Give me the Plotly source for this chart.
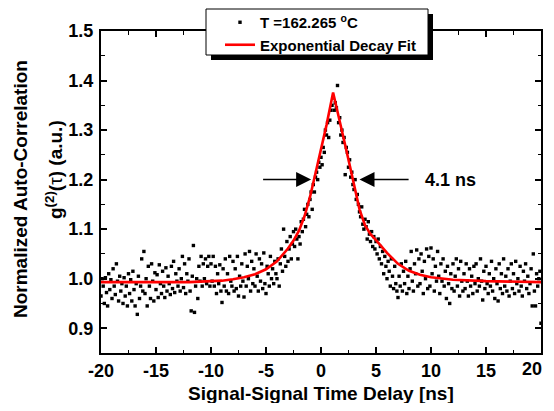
import plotly.graph_objects as go

# ---------------- data ----------------
# sampling grid of the measured histogram: -20 ns ... 20 ns, 0.1 ns bins
delay_start_ns = -20.0
delay_step_ns = 0.1

g2_measured = [
    0.965, 1.000, 0.985, 0.950, 1.002, 0.972, 0.945, 1.010, 0.978, 0.998,   # -20
    0.960, 1.020, 0.985, 0.968, 1.030, 0.995, 0.955, 1.005, 0.975, 0.990,   # -19
    0.950, 1.002, 0.965, 0.985, 0.945, 1.010, 0.970, 0.998, 0.955, 1.015,   # -18
    0.978, 0.945, 0.990, 0.928, 1.005, 0.960, 0.985, 1.040, 0.975, 1.055,   # -17
    0.970, 1.000, 0.945, 1.025, 0.985, 0.960, 1.030, 0.995, 0.955, 1.012,   # -16
    0.978, 1.008, 0.962, 1.028, 0.990, 0.970, 1.015, 0.985, 0.962, 1.022,   # -15
    0.975, 1.005, 0.990, 0.968, 1.025, 0.980, 1.035, 0.972, 1.010, 0.995,   # -14
    0.985, 1.020, 0.975, 1.000, 1.045, 0.982, 1.030, 0.970, 1.010, 0.995,   # -13
    1.040, 0.975, 0.935, 1.005, 1.067, 0.932, 0.985, 1.000, 0.960, 1.025,   # -12
    0.995, 1.045, 0.985, 1.030, 1.000, 1.040, 0.990, 1.025, 1.045, 0.985,   # -11
    1.030, 0.995, 1.045, 0.985, 1.025, 0.970, 1.010, 0.990, 1.028, 0.975,   # -10
    0.952, 1.020, 0.985, 1.040, 0.975, 1.010, 0.970, 1.045, 0.995, 0.985,   # -9
    1.035, 0.975, 1.020, 0.980, 1.045, 0.965, 1.005, 0.985, 1.030, 0.995,   # -8
    0.963, 1.050, 0.985, 1.025, 1.000, 1.055, 0.975, 1.035, 0.990, 1.020,   # -7
    0.985, 1.050, 1.005, 0.975, 1.040, 0.995, 1.030, 0.980, 1.052, 0.990,   # -6
    0.970, 1.025, 1.010, 0.985, 1.045, 1.000, 1.020, 0.990, 1.035, 1.010,   # -5
    1.000, 1.040, 0.985, 1.030, 1.060, 1.015, 1.100, 1.045, 1.025, 1.075,   # -4
    1.035, 1.060, 1.085, 1.040, 1.070, 1.095, 1.065, 1.100, 1.080, 1.040,   # -3
    1.085, 1.070, 1.115, 1.095, 1.120, 1.140, 1.105, 1.130, 1.150, 1.125,   # -2
    1.160, 1.175, 1.140, 1.190, 1.175, 1.205, 1.215, 1.200, 1.235, 1.225,   # -1
    1.245, 1.230, 1.265, 1.255, 1.300, 1.290, 1.315, 1.285, 1.320, 1.340,   # 0
    1.350, 1.365, 1.340, 1.355, 1.345, 1.390, 1.315, 1.325, 1.290, 1.300,   # 1
    1.275, 1.285, 1.210, 1.265, 1.255, 1.225, 1.240, 1.205, 1.215, 1.190,   # 2
    1.180, 1.200, 1.160, 1.170, 1.150, 1.135, 1.125, 1.145, 1.110, 1.100,   # 3
    1.120, 1.105, 1.080, 1.115, 1.090, 1.075, 1.095, 1.065, 1.085, 1.060,   # 4
    1.075, 1.050, 1.080, 1.040, 1.065, 1.030, 1.055, 1.010, 1.045, 1.025,   # 5
    1.000, 1.035, 1.015, 0.985, 1.040, 1.005, 0.980, 1.025, 0.990, 0.975,   # 6
    0.962, 1.005, 0.985, 1.030, 0.975, 1.015, 0.990, 1.035, 0.970, 1.005,   # 7
    0.980, 1.020, 1.055, 0.995, 0.975, 1.030, 1.010, 1.058, 0.985, 1.040,   # 8
    0.990, 1.050, 1.015, 0.970, 1.035, 1.000, 1.060, 0.980, 1.045, 0.985,   # 9
    1.062, 1.010, 1.040, 0.975, 1.025, 0.995, 1.055, 1.005, 0.970, 1.030,   # 10
    0.995, 1.040, 0.985, 1.015, 0.960, 1.025, 0.990, 0.950, 1.010, 0.980,   # 11
    1.030, 0.975, 1.005, 1.040, 0.985, 1.020, 0.965, 1.035, 0.995, 0.975,   # 12
    1.010, 0.980, 1.030, 0.995, 0.965, 1.020, 0.985, 1.005, 0.970, 1.025,   # 13
    0.990, 1.030, 0.975, 1.000, 0.985, 1.040, 0.995, 0.957, 1.015, 0.980,   # 14
    1.025, 0.990, 0.970, 1.010, 0.985, 1.035, 0.975, 1.000, 0.960, 1.020,   # 15
    0.990, 0.955, 1.030, 0.980, 1.010, 0.970, 1.040, 0.985, 1.005, 0.975,   # 16
    1.020, 0.965, 0.995, 1.030, 0.980, 1.010, 0.970, 1.035, 0.990, 1.000,   # 17
    0.975, 1.025, 0.985, 0.965, 1.015, 0.995, 1.030, 0.980, 1.005, 0.970,   # 18
    0.990, 1.020, 0.945, 1.050, 0.975, 0.945, 1.010, 0.985, 1.000, 1.015,   # 19
    0.910,                                                                  # 20
]
delay_measured = [round(delay_start_ns + delay_step_ns * i, 1) for i in range(len(g2_measured))]

fit_delay = [-20, -15, -12, -10, -9, -8, -7, -6, -5, -4, -3.5, -3, -2.5, -2, -1.5, -1,
             -0.5, 0, 0.5, 1.1, 1.5, 2, 2.5, 3, 3.5, 4, 4.5, 5, 5.5, 6, 7, 8, 9, 10,
             12, 15, 20]
fit_g2 = [0.993, 0.993, 0.993, 0.995, 0.996, 0.999, 1.003, 1.009, 1.019, 1.035, 1.047,
          1.061, 1.077, 1.097, 1.126, 1.165, 1.213, 1.260, 1.310, 1.376, 1.340, 1.289,
          1.240, 1.188, 1.140, 1.108, 1.090, 1.078, 1.064, 1.052, 1.030, 1.016, 1.008,
          1.003, 0.998, 0.995, 0.993]

x_ticks = [-20, -15, -10, -5, 0, 5, 10, 15, 20]
x_tick_labels = ["-20", "-15", "-10", "-5", "0", "5", "10", "15", ""]
x_last_label = "20"          # drawn just inside the frame, as in the reference
y_ticks = [0.9, 1.0, 1.1, 1.2, 1.3, 1.4, 1.5]
y_tick_labels = ["0.9", "1.0", "1.1", "1.2", "1.3", "1.4", "1.5"]

legend_points = "T =162.265 <sup>o</sup>C"
legend_fit = "Exponential Decay Fit"
fwhm_label = "4.1 ns"
fwhm_y = 1.2
fwhm_left = (-5.4, -0.9)    # tail, head
fwhm_right = (8.1, 3.5)     # tail, head
fwhm_text_x = 9.3

FONT = "Liberation Sans, Arial, sans-serif"

# ---------------- figure ----------------
fig = go.Figure()
fig.add_trace(go.Scatter(
    x=delay_measured, y=g2_measured, mode="markers", name=legend_points,
    marker=dict(symbol="square", size=3.4, color="black", line=dict(width=0)),
))
fig.add_trace(go.Scatter(
    x=fit_delay, y=fit_g2, mode="lines", name=legend_fit,
    line=dict(color="#ff0000", width=2.6),
))

# The page body has an 8 px default margin on every side, so the figure is
# sized to fit inside the window and placed so the plot area lands on the
# reference's screen pixels.
OFF = 8
SW, SH = 554, 411
PL, PR, PT, PB = 101, 541, 31, 353          # plot area in screen pixels
W, H = SW - 2 * OFF, SH - 2 * OFF
L, T = PL - OFF, PT - OFF
R, B = (OFF + W) - PR, (OFF + H) - PB
pw, ph = PR - PL, PB - PT


def px(xs):
    return (xs - PL) / pw


def py(ys):
    return (PB - ys) / ph


TICKFONT = dict(family=FONT, size=18, color="black", weight="bold")

axis_common = dict(
    showline=True, linecolor="black", linewidth=2, mirror="allticks",
    ticks="inside", ticklen=6, tickwidth=1.6, tickcolor="black",
    showgrid=False, zeroline=False,
    tickfont=TICKFONT,
)

fig.update_xaxes(range=[-20, 20], tickvals=x_ticks, ticktext=x_tick_labels,
                 minor=dict(ticks="inside", ticklen=3.5, tickwidth=1.4, dtick=2.5, tick0=0,
                            tickcolor="black", showgrid=False),
                 ticklabelstandoff=0, **axis_common)
fig.update_yaxes(range=[0.85, 1.5], tickvals=y_ticks, ticktext=y_tick_labels,
                 minor=dict(ticks="inside", ticklen=3.5, tickwidth=1.4, dtick=0.05, tick0=0,
                            tickcolor="black", showgrid=False),
                 ticklabelstandoff=2, **axis_common)

# legend frame with drop shadow
box = (206, 9, 428, 55)
fig.add_shape(type="rect", xref="paper", yref="paper",
              x0=px(box[0] + 5), x1=px(box[2] + 5), y0=py(box[3] + 5), y1=py(box[1] + 5),
              fillcolor="black", line=dict(width=0), layer="above")
fig.add_shape(type="rect", xref="paper", yref="paper",
              x0=px(box[0]), x1=px(box[2]), y0=py(box[3]), y1=py(box[1]),
              fillcolor="white", line=dict(color="black", width=1), layer="above")

fig.update_layout(
    width=W, height=H,
    margin=dict(l=L, r=R, t=T, b=B, pad=0, autoexpand=False),
    paper_bgcolor="white", plot_bgcolor="white",
    showlegend=True,
    legend=dict(x=px(box[0] + 14), y=py(box[1] - 3), xanchor="left", yanchor="top",
                bgcolor="rgba(0,0,0,0)", borderwidth=0, tracegroupgap=0,
                font=dict(family=FONT, size=15, color="black", weight="bold"),
                itemsizing="trace"),
    font=dict(family=FONT, color="black"),
)

# last x tick label, kept inside the right frame edge
fig.add_annotation(x=px(532), y=py(369), xref="paper", yref="paper",
                   text=x_last_label, showarrow=False,
                   xanchor="center", yanchor="middle", font=TICKFONT)

# FWHM arrows
for tail, head in (fwhm_left, fwhm_right):
    fig.add_annotation(x=head, y=fwhm_y, ax=tail, ay=fwhm_y, xref="x", yref="y",
                       axref="x", ayref="y", text="", showarrow=True,
                       arrowhead=2, arrowsize=2.0, arrowwidth=1.5, arrowcolor="black")
fig.add_annotation(x=fwhm_text_x, y=fwhm_y, xref="x", yref="y", text=fwhm_label,
                   showarrow=False, xanchor="left", yanchor="middle",
                   font=dict(family=FONT, size=18, color="black", weight="bold"))

# axis titles
fig.add_annotation(x=0.5, y=py(393), xref="paper", yref="paper",
                   text="Signal-Signal Time Delay [ns]", showarrow=False,
                   xanchor="center", yanchor="middle",
                   font=dict(family=FONT, size=19, color="black", weight="bold"))
fig.add_annotation(x=px(20), y=py(189), xref="paper", yref="paper",
                   text="Normalized Auto-Correlation", showarrow=False, textangle=-90,
                   xanchor="center", yanchor="middle",
                   font=dict(family=FONT, size=19, color="black", weight="bold"))
fig.add_annotation(x=px(54), y=py(170), xref="paper", yref="paper",
                   text="g<sup>(2)</sup>(<span style='font-weight:normal'>τ</span>) (a.u.)",
                   showarrow=False, textangle=-90,
                   xanchor="center", yanchor="middle",
                   font=dict(family=FONT, size=19, color="black", weight="bold"))

fig.write_html("out.html")
